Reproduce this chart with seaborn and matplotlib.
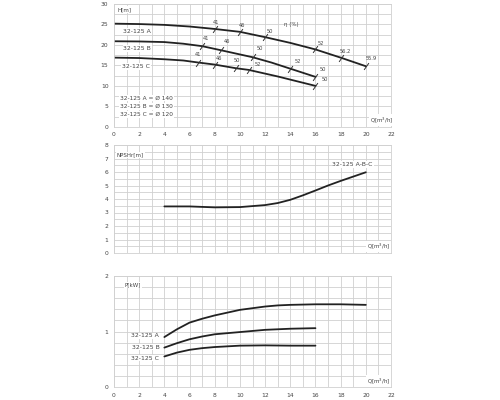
import numpy as np
import pandas as pd
import matplotlib
matplotlib.use("Agg")
import matplotlib.pyplot as plt
from matplotlib.ticker import MultipleLocator
import seaborn as sns

# H-Q curves
q_a = [0, 2, 4, 6, 8, 10, 12, 14, 16, 18, 20]
h_a = [25.2, 25.1, 24.9, 24.5, 23.9, 23.2, 21.9, 20.5, 18.9, 16.9, 14.8]
q_b = [0, 2, 4, 5.5, 7, 8.5, 11, 12.5, 14, 16]
h_b = [20.9, 20.85, 20.7, 20.3, 19.7, 18.7, 17.0, 15.7, 14.2, 12.2]
q_c = [0, 2, 4, 5.5, 6.7, 8, 9.7, 10.7, 13, 16]
h_c = [16.9, 16.8, 16.5, 16.2, 15.7, 15.2, 14.3, 13.9, 12.3, 10.0]

# efficiency marks on the curves and their labels
eta_q_a = [8, 10, 12, 16, 18, 20]
eta_h_a = [23.9, 23.2, 21.9, 18.9, 16.9, 14.8]
eta_a = ["41", "46", "50", "52", "56.2", "55.9"]
eta_lq_a = [8.1, 10.2, 12.4, 16.4, 18.4, 20.45]
eta_lh_a = [25.6, 24.8, 23.4, 20.3, 18.5, 16.8]
eta_q_b = [7, 8.5, 11, 14, 16]
eta_h_b = [19.7, 18.7, 17.0, 14.2, 12.2]
eta_b = ["41", "46", "50", "52", "50"]
eta_lq_b = [7.3, 9.0, 11.6, 14.6, 16.6]
eta_lh_b = [21.6, 20.8, 19.1, 15.9, 13.9]
eta_q_c = [6.7, 8, 9.7, 10.7, 16]
eta_h_c = [15.7, 15.2, 14.3, 13.9, 10.0]
eta_c = ["41", "46", "50", "52", "50"]
eta_lq_c = [6.67, 8.3, 9.8, 11.4, 16.75]
eta_lh_c = [17.7, 16.7, 16.1, 15.1, 11.6]

# NPSHr
q_npsh = [4, 6, 8, 10, 12, 13, 14, 15, 16, 17, 18, 19, 20]
npsh = [3.45, 3.45, 3.38, 3.4, 3.55, 3.7, 3.94, 4.27, 4.63, 5.0, 5.34, 5.66, 5.98]

# power
q_pa = [4, 5, 6, 7, 8, 9, 10, 11, 12, 13, 14, 16, 18, 20]
p_a = [0.90, 1.04, 1.16, 1.23, 1.29, 1.34, 1.39, 1.42, 1.45, 1.47, 1.48, 1.49, 1.49, 1.48]
q_pb = [4, 5, 6, 7, 8, 10, 12, 14, 16]
p_b = [0.71, 0.79, 0.86, 0.91, 0.95, 0.99, 1.03, 1.05, 1.06]
q_pc = [4, 5, 6, 7, 8, 10, 12, 14, 16]
p_c = [0.55, 0.62, 0.67, 0.70, 0.72, 0.745, 0.75, 0.745, 0.745]

sns.set_style("white")
plt.rcParams['font.family'] = ['DejaVu Sans']

fig = plt.figure(figsize=(5, 4), dpi=100)
ax1 = fig.add_axes([0.228, 0.683, 0.554, 0.307])
ax2 = fig.add_axes([0.228, 0.3675, 0.554, 0.27])
ax3 = fig.add_axes([0.228, 0.0325, 0.554, 0.2775])

grid_c = "#d0d0d0"
txt_c = "#444444"
fs = 4.0
wbox = dict(facecolor="white", edgecolor="none", pad=0.6)


def style(ax, ymax, ystep, ygrid, labels=True):
    ax.set_xlim(0, 22)
    ax.set_ylim(0, ymax)
    ax.xaxis.set_major_locator(MultipleLocator(2))
    ax.xaxis.set_minor_locator(MultipleLocator(1))
    ax.yaxis.set_major_locator(MultipleLocator(ystep))
    ax.yaxis.set_minor_locator(MultipleLocator(ygrid))
    ax.grid(True, which="both", color=grid_c, lw=0.6)
    ax.set_axisbelow(True)
    for s in ax.spines.values():
        s.set_color(grid_c)
        s.set_linewidth(0.6)
    ax.tick_params(which="both", length=0, labelsize=fs + 0.3, colors=txt_c, pad=4)
    if not labels:
        ax.tick_params(axis="x", labelbottom=False)
    ax.set_xlabel("")
    ax.set_ylabel("")


lw = 1.3
# top chart
for q, h in [(q_a, h_a), (q_b, h_b), (q_c, h_c)]:
    sns.lineplot(x=q, y=h, ax=ax1, color="#222222", lw=lw)
marks = [(eta_q_a, eta_h_a, eta_a, eta_lq_a, eta_lh_a),
         (eta_q_b, eta_h_b, eta_b, eta_lq_b, eta_lh_b),
         (eta_q_c, eta_h_c, eta_c, eta_lq_c, eta_lh_c)]
for q, h, lab, lq, lh in marks:
    ax1.plot(q, h, ls="none", marker=(2, 0, -35), ms=6, mew=0.7, color="#333333")
    for xi, yi, t in zip(lq, lh, lab):
        ax1.text(xi, yi, t, fontsize=fs - 0.3, color=txt_c, ha="center", va="center")
style(ax1, 30, 5, 2.5)
ax1.text(0.8, 28.7, "H[m]", fontsize=fs, color=txt_c, ha="center", va="center", bbox=wbox)
ax1.text(14.1, 25, "η (%)", fontsize=fs, color=txt_c, ha="center", va="center")
ax1.text(1.8, 23.2, "32-125 A", fontsize=fs + 0.4, color=txt_c, ha="center", va="center", bbox=wbox)
ax1.text(1.85, 19.1, "32-125 B", fontsize=fs + 0.4, color=txt_c, ha="center", va="center", bbox=wbox)
ax1.text(1.75, 14.8, "32-125 C", fontsize=fs + 0.4, color=txt_c, ha="center", va="center", bbox=wbox)
ax1.text(0.5, 7.0, "32-125 A = Ø 140", fontsize=fs + 0.2, color=txt_c, ha="left", va="center", bbox=wbox)
ax1.text(0.5, 5.0, "32-125 B = Ø 130", fontsize=fs + 0.2, color=txt_c, ha="left", va="center", bbox=wbox)
ax1.text(0.5, 3.0, "32-125 C = Ø 120", fontsize=fs + 0.2, color=txt_c, ha="left", va="center", bbox=wbox)
ax1.text(20.3, 1.7, "Q[m$^3$/h]", fontsize=fs, color=txt_c, ha="left", va="center", bbox=wbox)

# middle chart
sns.lineplot(x=q_npsh, y=npsh, ax=ax2, color="#222222", lw=lw)
style(ax2, 8, 1, 0.5, labels=False)
ax2.text(1.3, 7.27, "NPSHr[m]", fontsize=fs, color=txt_c, ha="center", va="center", bbox=wbox)
ax2.text(18.95, 6.58, "32-125 A-B-C", fontsize=fs + 0.4, color=txt_c, ha="center", va="center", bbox=wbox)
ax2.text(20.1, 0.5, "Q[m$^3$/h]", fontsize=fs, color=txt_c, ha="left", va="center", bbox=wbox)

# bottom chart
for q, p in [(q_pa, p_a), (q_pb, p_b), (q_pc, p_c)]:
    sns.lineplot(x=q, y=p, ax=ax3, color="#222222", lw=lw)
style(ax3, 2, 1, 0.2)
ax3.text(3.6, 0.92, "32-125 A", fontsize=fs + 0.4, color=txt_c, ha="right", va="center", bbox=wbox)
ax3.text(3.6, 0.72, "32-125 B", fontsize=fs + 0.4, color=txt_c, ha="right", va="center", bbox=wbox)
ax3.text(3.6, 0.52, "32-125 C", fontsize=fs + 0.4, color=txt_c, ha="right", va="center", bbox=wbox)
ax3.text(1.5, 1.84, "P[kW]", fontsize=fs, color=txt_c, ha="center", va="center", bbox=wbox)
ax3.text(20.1, 0.11, "Q[m$^3$/h]", fontsize=fs, color=txt_c, ha="left", va="center", bbox=wbox)

fig.savefig("out.png", dpi=100, facecolor="white")
